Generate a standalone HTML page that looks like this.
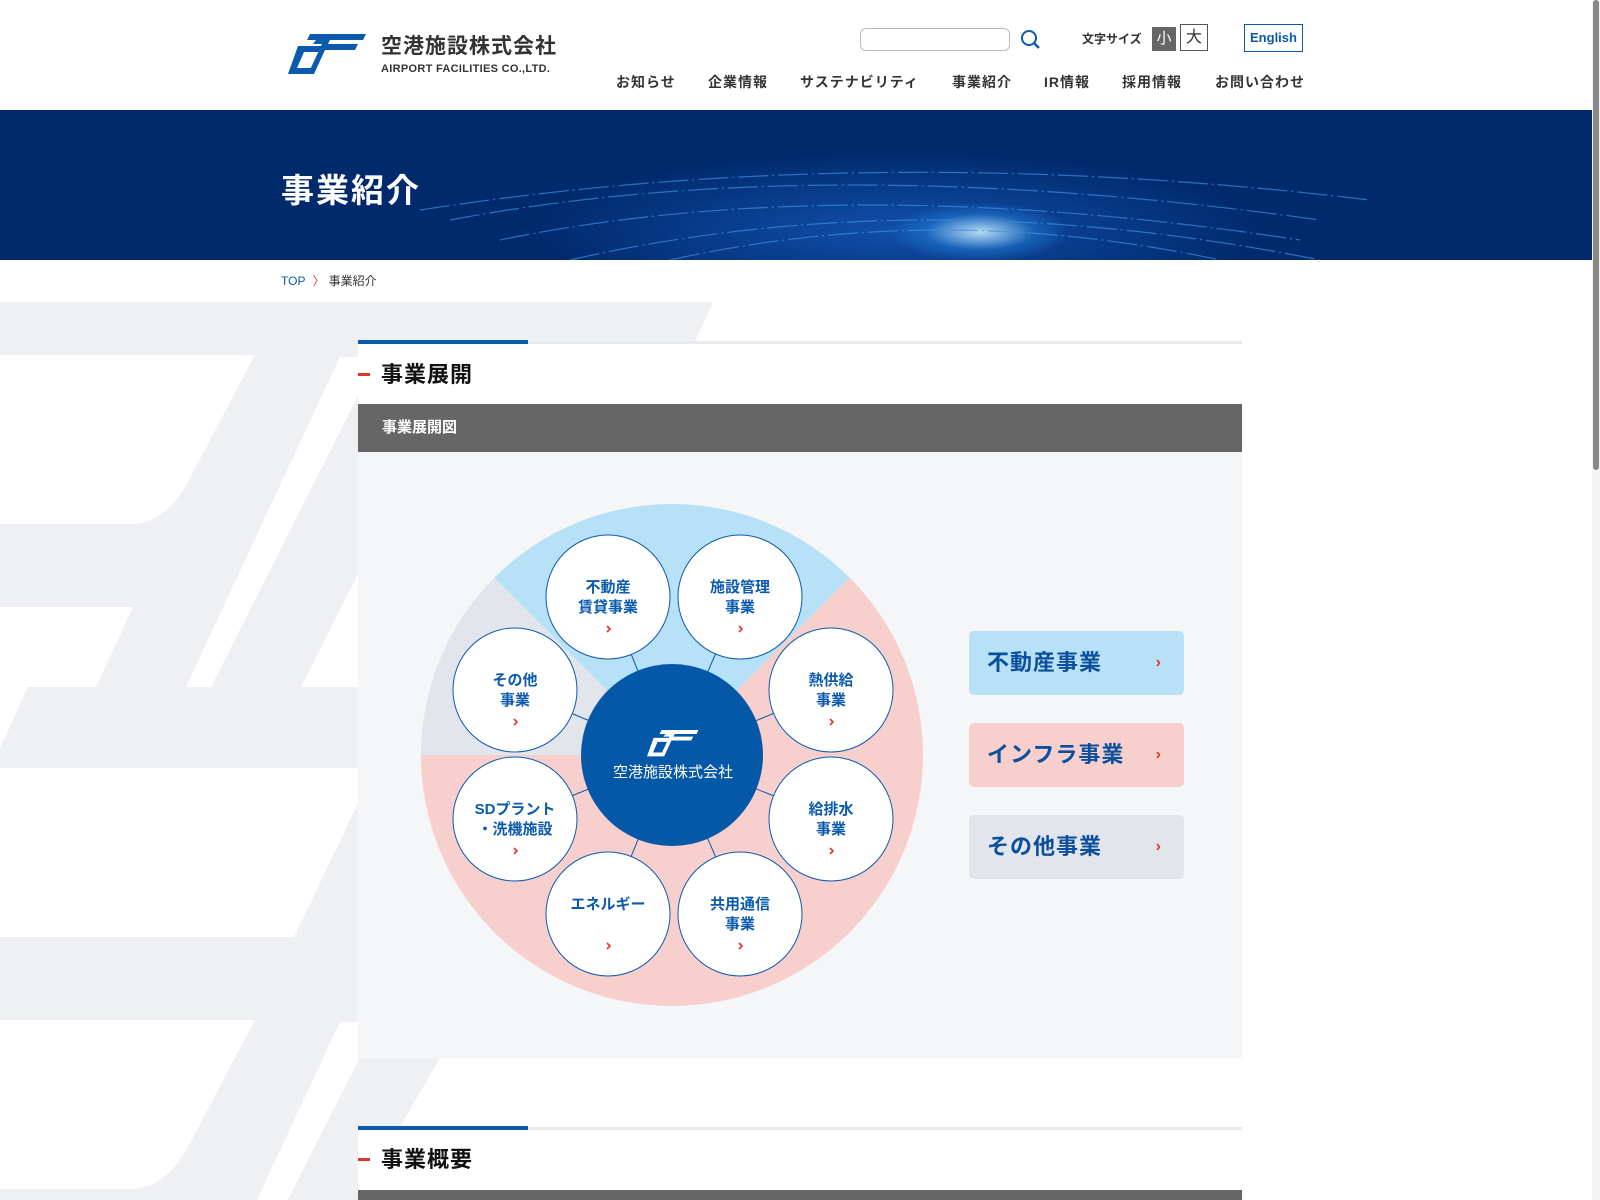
<!DOCTYPE html>
<html><head><meta charset="utf-8"><style>
*{margin:0;padding:0;box-sizing:border-box}
body{width:1600px;height:1200px;overflow:hidden;position:relative;background:#fff;font-family:"Liberation Sans","Noto Sans CJK JP",sans-serif;color:#333}
.a{position:absolute;white-space:nowrap}
.nav{top:72px;font-size:14px;font-weight:bold;color:#333;letter-spacing:1px}
.btn{position:absolute;left:969px;width:215px;height:64px;border-radius:5px;font-size:22px;font-weight:bold;color:#0b4f9c;padding-left:18px;line-height:64px;letter-spacing:1px}
.btn span{position:absolute;right:22px;top:0;color:#e0352b;font-size:16px}
</style></head><body>
<!-- header -->
<svg class="a" style="left:288px;top:34px" width="80" height="44" viewBox="0 0 80 44">
<g fill="#0b5aad">
<polygon points="22,0 78,0 75,6 42,6 40,10 70,10 67,16 37,16 26,40 20,40 34,10 25,10 28,6 19,6"/>
<polygon points="10,12 34,12 31,18 16,18 9,34 24,34 21,40 0,40"/>
</g></svg>
<div class="a" style="left:381px;top:30px;font-size:21px;font-weight:bold;color:#333;letter-spacing:1px">空港施設株式会社</div>
<div class="a" style="left:381px;top:63px;font-size:11px;font-weight:bold;color:#333;letter-spacing:.3px">AIRPORT FACILITIES CO.,LTD.</div>
<div class="a" style="left:860px;top:28px;width:150px;height:23px;border:1px solid #bbb;border-radius:6px"></div>
<svg class="a" style="left:1020px;top:29px" width="22" height="22"><circle cx="9" cy="9" r="7" fill="none" stroke="#0b5aad" stroke-width="2"/><line x1="14" y1="14" x2="19" y2="19" stroke="#0b5aad" stroke-width="2.5"/></svg>
<div class="a" style="left:1082px;top:30px;font-size:12px;font-weight:bold">文字サイズ</div>
<div class="a" style="left:1152px;top:27px;width:24px;height:24px;background:#666;color:#fff;font-size:15px;text-align:center;line-height:24px">小</div>
<div class="a" style="left:1180px;top:24px;width:28px;height:27px;border:1px solid #555;color:#333;font-size:16px;text-align:center;line-height:25px">大</div>
<div class="a" style="left:1244px;top:24px;width:59px;height:28px;border:1px solid #0b5aad;color:#0b5aad;font-size:13px;font-weight:bold;text-align:center;line-height:26px">English</div>
<div class="a nav" style="left:616px">お知らせ</div>
<div class="a nav" style="left:708px">企業情報</div>
<div class="a nav" style="left:800px">サステナビリティ</div>
<div class="a nav" style="left:952px">事業紹介</div>
<div class="a nav" style="left:1044px">IR情報</div>
<div class="a nav" style="left:1122px">採用情報</div>
<div class="a nav" style="left:1215px">お問い合わせ</div>
<!-- hero -->
<div class="a" style="left:0;top:110px;width:1592px;height:150px;background:radial-gradient(ellipse 90px 30px at 980px 122px,rgba(200,235,255,.9),rgba(40,140,230,.4) 60%,transparent),radial-gradient(ellipse 520px 110px at 900px 120px,rgba(30,110,220,.55),transparent 70%),#012a6d"></div>
<svg class="a" style="left:420px;top:160px" width="960" height="100"><g fill="none" stroke="#3b8fe0" stroke-width="1.2" opacity=".7" stroke-dasharray="30 4 2 4">
<path d="M30,60 Q400,-10 900,60"/><path d="M80,80 Q420,10 880,80"/><path d="M150,100 Q500,20 900,100"/><path d="M250,100 Q520,40 800,100"/><path d="M0,50 Q450,-20 950,40"/></g></svg>
<div class="a" style="left:281px;top:164px;font-size:33px;font-weight:bold;color:#fff;letter-spacing:2px">事業紹介</div>
<div class="a" style="left:281px;top:272px;font-size:12px;color:#0b5aad">TOP <span style="color:#e0352b;margin:0 4px">〉</span><span style="color:#333">事業紹介</span></div>
<!-- bg decoration -->
<svg class="a" style="left:0;top:302px" width="1592" height="898">
<polygon points="0,0 713,0 690,50 0,50" fill="#eff0f4"/>
<rect x="0" y="0" width="360" height="898" fill="#eff0f4"/>
<g fill="#fff" id="pat">
<path d="M0,53 L255,53 L193,170 Q170,220 133,222 L0,222Z"/>
<polygon points="340,55 360,55 360,90 211,385 186,385"/>
<polygon points="360,268 360,385 301,385"/>
<polygon points="0,305 133,305 96,385 0,385"/>
<polygon points="0,385 28,385 0,446"/>
<polygon points="0,466 360,466 360,497 294,635 0,635"/>
</g>
<g fill="#fff" transform="translate(0,665)">
<path d="M0,53 L255,53 L193,170 Q170,220 133,222 L0,222Z"/>
<polygon points="340,55 360,55 360,90 211,385 186,385"/>
</g>
<polygon points="360,756 440,756 400,825 360,825" fill="#eff0f4"/>
</svg>
<!-- section 1 -->
<div class="a" style="left:358px;top:341px;width:884px;height:3px;background:#e8e9ec"></div>
<div class="a" style="left:358px;top:340px;width:170px;height:4px;background:#0b5aad"></div>
<div class="a" style="left:358px;top:344px;width:884px;height:60px;background:#fff"></div>
<div class="a" style="left:358px;top:373px;width:12px;height:3px;background:#e0352b"></div>
<div class="a" style="left:381px;top:357px;font-size:22px;font-weight:bold;color:#111;letter-spacing:1px">事業展開</div>
<div class="a" style="left:358px;top:404px;width:884px;height:48px;background:#666;color:#fff;font-size:15px;font-weight:bold;padding-left:24px;line-height:48px">事業展開図</div>
<div class="a" style="left:358px;top:452px;width:884px;height:606px;background:#f5f6f8"></div>
<div class="a" style="left:421px;top:504px;width:502px;height:502px;border-radius:50%;background:conic-gradient(#b7e1f7 0 45deg,#f7d0ce 45deg 270deg,#e2e5ec 270deg 315deg,#b7e1f7 315deg)"></div>
<svg class="a" style="left:0;top:0" width="1600" height="1200" font-family="Liberation Sans,Noto Sans CJK JP,sans-serif" font-weight="bold">
<g stroke="#0b5aad" stroke-width="1">
<line x1="672" y1="755" x2="608" y2="597"/><line x1="672" y1="755" x2="740" y2="597"/>
<line x1="672" y1="755" x2="515" y2="690"/><line x1="672" y1="755" x2="831" y2="690"/>
<line x1="672" y1="755" x2="515" y2="819"/><line x1="672" y1="755" x2="831" y2="819"/>
<line x1="672" y1="755" x2="608" y2="914"/><line x1="672" y1="755" x2="740" y2="914"/>
</g>
<circle cx="672" cy="755" r="91" fill="#0558a8"/>
<g fill="#fff" transform="translate(647,730) scale(.66)">
<polygon points="22,0 78,0 75,6 42,6 40,10 70,10 67,16 37,16 26,40 20,40 34,10 25,10 28,6 19,6"/>
<polygon points="10,12 34,12 31,18 16,18 9,34 24,34 21,40 0,40"/>
</g>
<text x="673" y="777" fill="#fff" font-size="15" font-weight="normal" text-anchor="middle">空港施設株式会社</text>
<g fill="#fff" stroke="#0b5aad" stroke-width="1">
<circle cx="608" cy="597" r="62"/><circle cx="740" cy="597" r="62"/>
<circle cx="515" cy="690" r="62"/><circle cx="831" cy="690" r="62"/>
<circle cx="515" cy="819" r="62"/><circle cx="831" cy="819" r="62"/>
<circle cx="608" cy="914" r="62"/><circle cx="740" cy="914" r="62"/>
</g>
<g fill="#0b5aad" font-size="15" text-anchor="middle">
<text x="608" y="592">不動産</text><text x="608" y="612">賃貸事業</text>
<text x="740" y="592">施設管理</text><text x="740" y="612">事業</text>
<text x="515" y="685">その他</text><text x="515" y="705">事業</text>
<text x="831" y="685">熱供給</text><text x="831" y="705">事業</text>
<text x="515" y="814">SDプラント</text><text x="515" y="834">・洗機施設</text>
<text x="831" y="814">給排水</text><text x="831" y="834">事業</text>
<text x="608" y="909">エネルギー</text>
<text x="740" y="909">共用通信</text><text x="740" y="929">事業</text>
</g>
<g fill="none" stroke="#e0352b" stroke-width="1.6">
<path d="M607,626 l3,3 l-3,3"/><path d="M739,626 l3,3 l-3,3"/>
<path d="M514,719 l3,3 l-3,3"/><path d="M830,719 l3,3 l-3,3"/>
<path d="M514,848 l3,3 l-3,3"/><path d="M830,848 l3,3 l-3,3"/>
<path d="M607,943 l3,3 l-3,3"/><path d="M739,943 l3,3 l-3,3"/>
</g>
</svg>
<div class="btn" style="top:631px;background:#b7e1f7">不動産事業<span>›</span></div>
<div class="btn" style="top:723px;background:#f7d0ce">インフラ事業<span>›</span></div>
<div class="btn" style="top:815px;background:#e2e5ec">その他事業<span>›</span></div>
<!-- section 2 -->
<div class="a" style="left:358px;top:1127px;width:884px;height:3px;background:#e8e9ec"></div>
<div class="a" style="left:358px;top:1126px;width:170px;height:4px;background:#0b5aad"></div>
<div class="a" style="left:358px;top:1130px;width:884px;height:60px;background:#fff"></div>
<div class="a" style="left:358px;top:1158px;width:12px;height:3px;background:#e0352b"></div>
<div class="a" style="left:381px;top:1142px;font-size:22px;font-weight:bold;color:#111;letter-spacing:1px">事業概要</div>
<div class="a" style="left:358px;top:1190px;width:884px;height:10px;background:#666"></div>
<!-- scrollbar -->
<div class="a" style="left:1592px;top:0;width:8px;height:1200px;background:#f4f4f4"></div>
<div class="a" style="left:1593px;top:0;width:6px;height:470px;background:#888;border-radius:3px"></div>
</body></html>
